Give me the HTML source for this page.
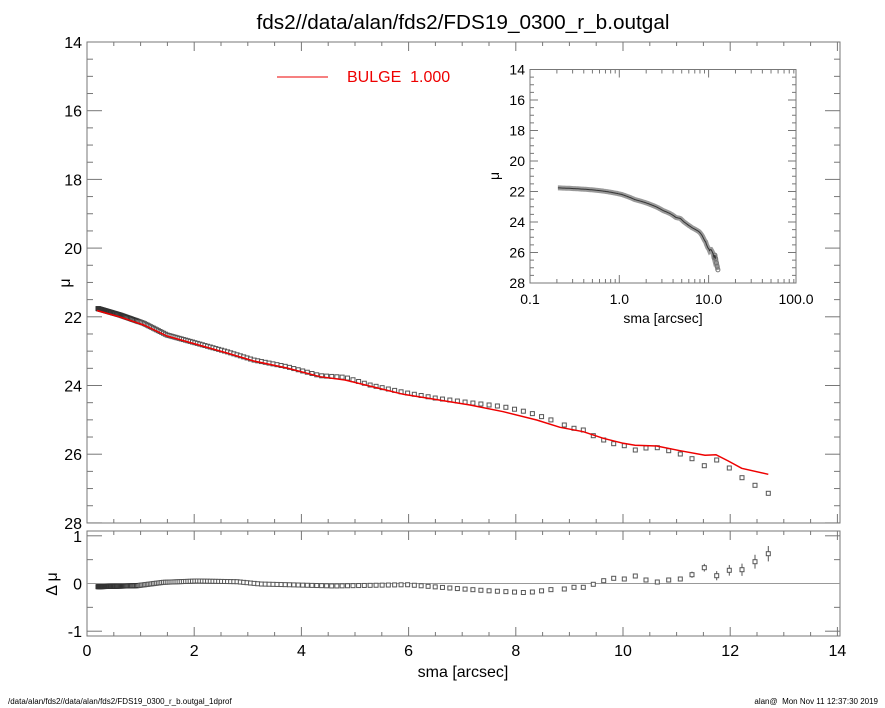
<!DOCTYPE html>
<html><head><meta charset="utf-8"><style>
body{margin:0;background:#fff}
svg{display:block;font-family:"Liberation Sans",sans-serif}
</style></head><body>
<svg id="s" width="885" height="708" viewBox="0 0 885 708" xmlns="http://www.w3.org/2000/svg">
<rect width="885" height="708" fill="#fff"/>
<text x="463" y="29" font-size="20" text-anchor="middle" textLength="413" lengthAdjust="spacingAndGlyphs">fds2//data/alan/fds2/FDS19_0300_r_b.outgal</text>
<g id="g"></g>
<line x1="277" y1="77" x2="328" y2="77" stroke="#e00" stroke-width="1"/>
<text x="347" y="82" font-size="16" fill="#e00">BULGE&#160;&#160;1.000</text>
<text x="463" y="677" font-size="16" text-anchor="middle">sma [arcsec]</text>
<text x="66" y="287" font-size="16" text-anchor="middle" transform="rotate(-90 66 283)">μ</text>
<text x="53" y="588" font-size="16" text-anchor="middle" transform="rotate(-90 53 584)">Δ μ</text>
<text x="663" y="323" font-size="14" text-anchor="middle">sma [arcsec]</text>
<text x="497" y="178" font-size="14" text-anchor="middle" transform="rotate(-90 497 176)">μ</text>
<text x="8" y="704" font-size="8">/data/alan/fds2//data/alan/fds2/FDS19_0300_r_b.outgal_1dprof</text>
<text x="878" y="704" font-size="8" text-anchor="end">alan@&#160;&#160;Mon Nov 11 12:37:30 2019</text>
</svg>
<script>
var g=document.getElementById('g'),h='';
function L(a,b,c,d,col,w){h+='<line x1="'+a+'" y1="'+b+'" x2="'+c+'" y2="'+d+'" stroke="'+(col||'#777')+'" stroke-width="'+(w||1)+'"/>';}
function T(x,y,t,fs,anc){h+='<text x="'+x+'" y="'+y+'" font-size="'+fs+'" text-anchor="'+(anc||'middle')+'">'+t+'</text>';}
var X0=87,XS=53.6;
function px(r){return X0+r*XS;}
var MT=42,MB=523;function my(m){return MT+(m-14)*34.35;}
h+='<rect x="87" y="42" width="753" height="481" fill="none" stroke="#777"/>';
h+='<rect x="87" y="531" width="753" height="105" fill="none" stroke="#777"/>';
for(var r=0;r<=14.001;r+=0.5){var x=px(r),mj=Math.abs(r%2)<0.01;var l=mj?9:4;
L(x,MB,x,MB-l);L(x,MT,x,MT+l);L(x,636,x,636-l);L(x,531,x,531+l);
if(mj)T(x,656,Math.round(r),16);}
for(var m=14;m<=28.001;m+=0.5){var y=my(m),mj=Math.abs(m%2)<0.01;var l=mj?15:6;
L(87,y,87+l,y);L(840,y,840-l,y);if(mj)T(82,y+6,Math.round(m),16,'end');}
function ry(d){return 583.5-d*47.7;}
[-1,0,1].forEach(function(d){T(82,ry(d)+6,d,16,'end');L(87,ry(d),102,ry(d));L(840,ry(d),825,ry(d));});
[-0.5,0.5].forEach(function(d){L(87,ry(d),93,ry(d));L(840,ry(d),834,ry(d));});
L(87,583.5,840,583.5,'#999',1);
var D=[[97,308.3],[120,315],[143.7,323.3],[167,335],[197,343.3],[227,351.7],[253.7,360],[287,366.7],[320,375.7],[345,377.3],[370,385],[403.3,392.3],[436.7,398.3],[470,402.7],[503.3,406.7],[528.3,412.3],[546.7,418.3],[564.3,425]];
var RL=[[97,310.5],[120,317],[143.7,325],[167,336],[197,344.5],[227,353],[253.7,361],[287,368],[320,376.7],[345,380],[403.3,394.3],[470,405],[503.3,411.7],[536.7,420],[560,427.3],[583.3,431.7],[603.3,438.3],[623.3,443.3],[635,445.3],[656.7,446],[680,450.7],[705,455.3],[716,454.7],[728.3,461],[741.7,468.3],[768.3,474.3]];
var RS=[[98,586.7],[137,585.7],[163.7,582.3],[197,581],[237,581.7],[260.3,584],[287,584.7],[333.7,586],[407,584.7],[453.7,588.3],[487,590.7],[527,592.7],[553.7,589.3],[564.3,589]];
function interp(A,x){for(var i=0;i<A.length-1;i++){if(x<=A[i+1][0]){var t=(x-A[i][0])/(A[i+1][0]-A[i][0]);return A[i][1]+t*(A[i+1][1]-A[i][1]);}}return A[A.length-1][1];}
var pts=[],res=[];
for(var x=98;x<559;){pts.push([x,interp(D,x)]);res.push([x,interp(RS,x)]);x+=Math.min(0.5+(x-98)*0.02,11);}
var PR=[[564.3,425],[574,428.3],[583.3,430],[593.3,435.7],[603.7,440],[613.7,443.7],[624.3,445.7],[635.3,450],[646,448],[657.3,447.7],[668.7,450.7],[680.3,454],[692,458.7],[704.3,465.7],[716.7,460],[729.3,468],[742,477.7],[755,485.3],[768.3,493.3]];
var RR=[[564.3,589],[574,587.3],[583.3,587.3],[593.3,584.3],[603.7,580.7],[613.7,578.3],[624.3,579],[635.3,576],[646,580],[657.3,582],[668.7,580],[680.3,579],[692,574.7],[704.3,567.7],[716.7,575.7],[729.3,570.3],[742,569.7],[755,561.7],[768.3,553.7]];
pts=pts.concat(PR);res=res.concat(RR);
function sq(p){var dark=p[0]<140;h+='<rect x="'+(p[0]-2)+'" y="'+(p[1]-2)+'" width="4" height="4" fill="#fff" stroke="'+(dark?'#333':'#555')+'" stroke-width="1"/>';}
pts.forEach(sq);
res.forEach(function(p){var e=p[0]>690?(p[0]-690)*0.06+1:0;if(e>0)L(p[0],p[1]-e-2,p[0],p[1]+e+2,'#555',1);sq(p);});
h+='<polyline fill="none" stroke="#e00" stroke-width="1.5" points="'+RL.map(function(p){return p.join(',')}).join(' ')+'"/>';
var IL=530,IR=796,IT=69.5,IB=283;
h+='<rect x="530" y="69.5" width="266" height="213.5" fill="#fff" stroke="#777"/>';
function ix(r){return IL+89.3*(Math.log10(r)+1);}function iy(m){return IT+(m-14)*15.25;}
for(var dd=-1;dd<=1;dd++){for(var k=1;k<10;k++){var v=k*Math.pow(10,dd),x=ix(v),l=k==1?8:4;L(x,IB,x,IB-l);L(x,IT,x,IT+l);}}
L(IR,IB,IR,IB-8);L(IR,IT,IR,IT+8);
T(530,304,'0.1',14);T(ix(1),304,'1.0',14);T(ix(10),304,'10.0',14);T(IR,304,'100.0',14);
for(var m=14;m<=28.001;m+=0.5){var y=iy(m),mj=Math.abs(m%2)<0.01,l=mj?8:4;L(IL,y,IL+l,y);L(IR,y,IR-l,y);if(mj)T(525,y+5,Math.round(m),14,'end');}
var ip=pts.map(function(p){var r=(p[0]-87)/XS,m=14+(p[1]-42)/34.35;return [ix(r),iy(m)];});
h+='<polyline fill="none" stroke="#999" stroke-width="5" points="'+ip.map(function(p){return p[0].toFixed(1)+','+p[1].toFixed(1)}).join(' ')+'"/>';
ip.slice(-6).forEach(function(p){h+='<circle cx="'+p[0]+'" cy="'+p[1]+'" r="2" fill="none" stroke="#777"/>';});
h+='<polyline fill="none" stroke="#333" stroke-width="1" points="'+ip.slice(0,-3).map(function(p){return p[0].toFixed(1)+','+p[1].toFixed(1)}).join(' ')+'"/>';
g.innerHTML=h;
</script>
</body></html>
